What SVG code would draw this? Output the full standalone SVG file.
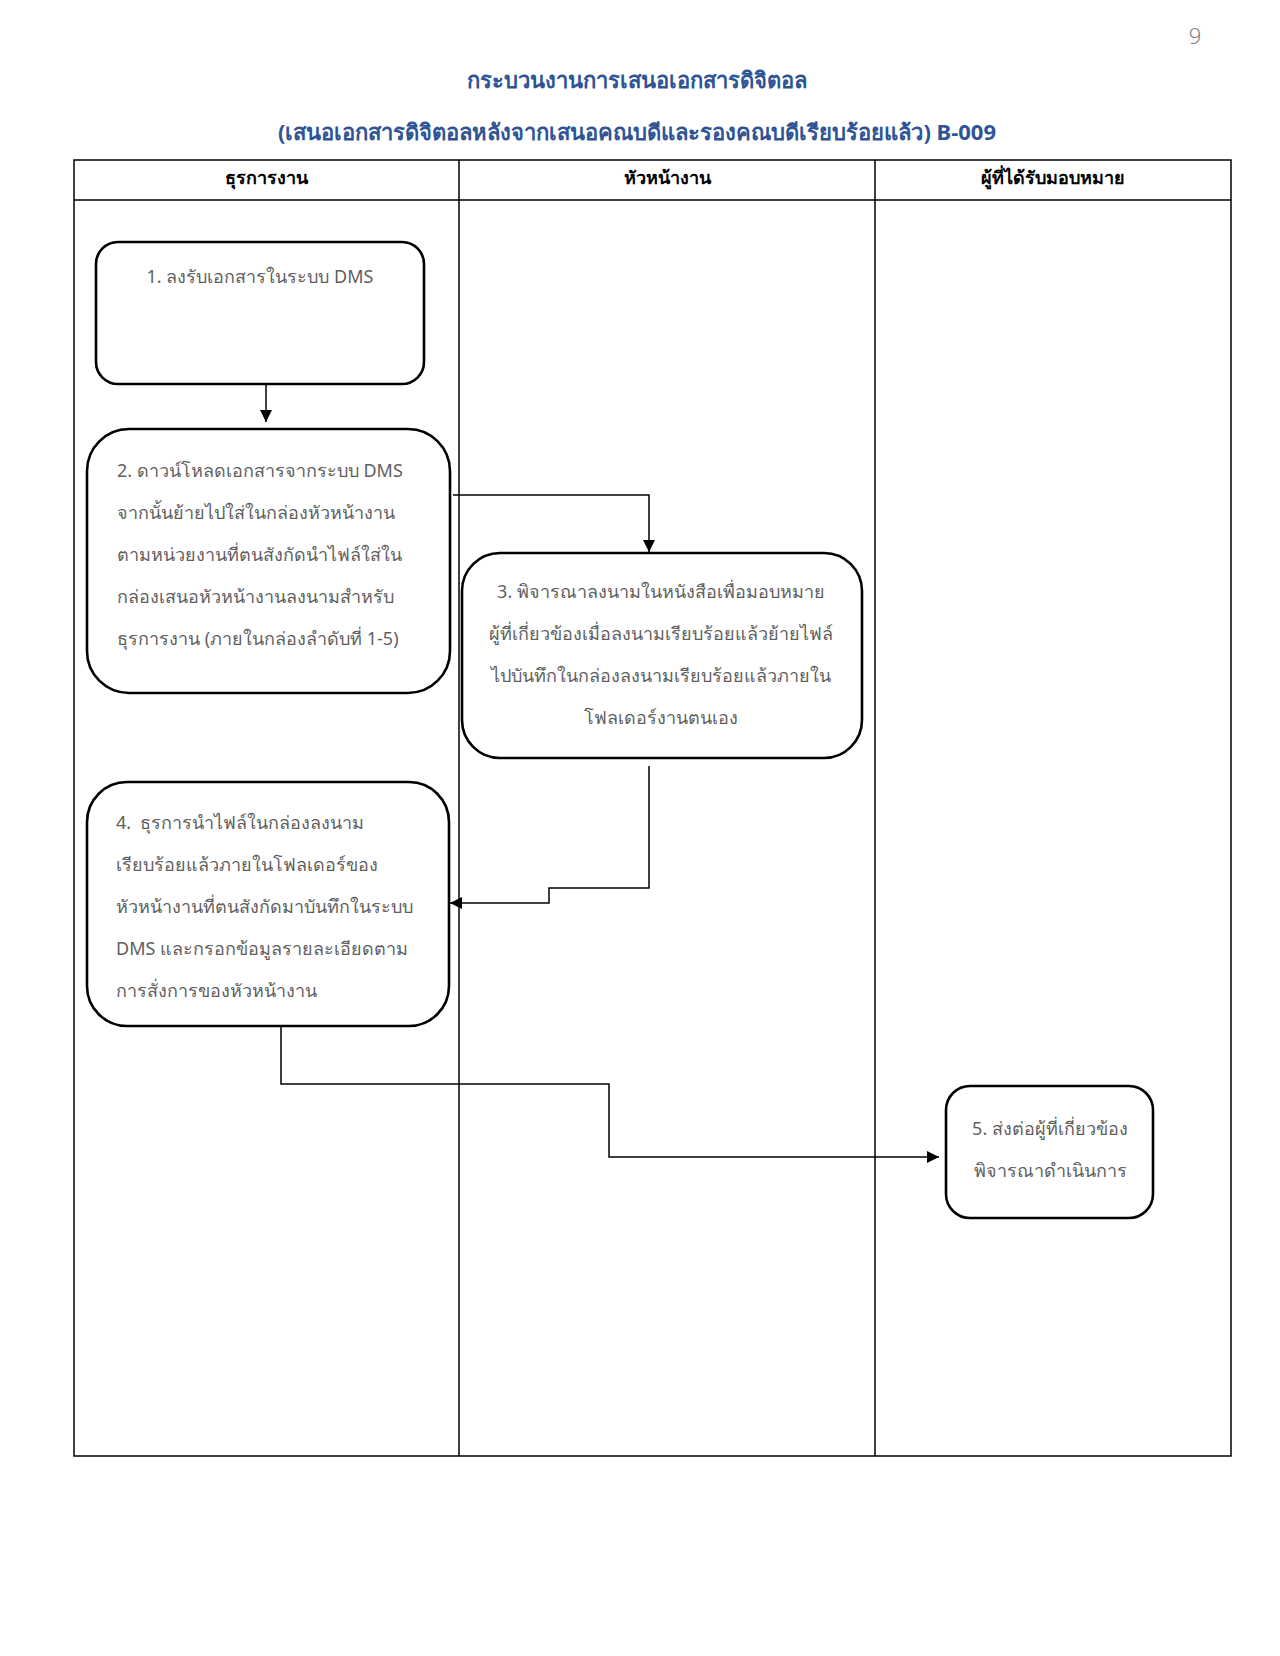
<svg xmlns="http://www.w3.org/2000/svg" width="1280" height="1656" viewBox="0 0 1280 1656">
<style>
  .title { font-family: 'Noto Sans', sans-serif; font-weight: bold; font-size: 22px; fill: #2F5496; text-anchor: middle; }
  .hdr { font-family: 'Noto Sans', sans-serif; font-weight: bold; font-size: 18px; fill: #000; text-anchor: middle; }
  .t { font-family: 'Noto Sans', sans-serif; font-size: 18px; fill: #5f5f5f; }
  .c { text-anchor: middle; }
  .box { fill: #fff; stroke: #000; stroke-width: 2.6; }
  .grid { fill: none; stroke: #000; stroke-width: 1.5; }
  .conn { fill: none; stroke: #000; stroke-width: 1.5; }
</style>
<defs>
  <marker id="arrB" viewBox="0 0 10 10" refX="10" refY="5" markerWidth="12" markerHeight="12" markerUnits="userSpaceOnUse" orient="auto">
    <path d="M0,0 L10,5 L0,10 z" fill="#000"/>
  </marker>
</defs>
<rect width="1280" height="1656" fill="#fff"/>

<text x="1195" y="44" font-family="'Noto Sans', sans-serif" font-size="22" fill="#7f7f7f" text-anchor="middle" font-weight="300">9</text>

<text class="title" x="637" y="88">กระบวนงานการเสนอเอกสารดิจิตอล</text>
<text class="title" x="637" y="140">(เสนอเอกสารดิจิตอลหลังจากเสนอคณบดีและรองคณบดีเรียบร้อยแล้ว) B-009</text>

<g id="lanes">
  <rect class="grid" x="74" y="160" width="1157" height="1296" stroke-width="2"/>
  <line class="grid" x1="74" y1="200" x2="1231" y2="200" stroke-width="2"/>
  <line class="grid" x1="459" y1="160" x2="459" y2="1456"/>
  <line class="grid" x1="875" y1="160" x2="875" y2="1456"/>
  <text class="hdr" x="266" y="184">ธุรการงาน</text>
  <text class="hdr" x="667" y="184">หัวหน้างาน</text>
  <text class="hdr" x="1053" y="184">ผู้ที่ได้รับมอบหมาย</text>
</g>

<g id="connectors">
  <line class="conn" x1="266" y1="384" x2="266" y2="422" marker-end="url(#arrB)"/>
  <polyline class="conn" points="453,495 649,495 649,552" marker-end="url(#arrB)"/>
  <polyline class="conn" points="649,766 649,888 549,888 549,903 450,903" marker-end="url(#arrB)"/>
  <polyline class="conn" points="281,1026 281,1084 609,1084 609,1157 939,1157" marker-end="url(#arrB)"/>
</g>

<g id="node1">
  <rect class="box" x="96" y="242" width="328" height="142" rx="22" ry="22"/>
  <text class="t c" x="260" y="283">1. ลงรับเอกสารในระบบ DMS</text>
</g>

<g id="node2">
  <rect class="box" x="87" y="429" width="363" height="264" rx="42" ry="42"/>
  <text class="t" x="117" y="477">2. ดาวน์โหลดเอกสารจากระบบ DMS</text>
  <text class="t" x="117" y="519">จากนั้นย้ายไปใส่ในกล่องหัวหน้างาน</text>
  <text class="t" x="117" y="561">ตามหน่วยงานที่ตนสังกัดนำไฟล์ใส่ใน</text>
  <text class="t" x="117" y="603">กล่องเสนอหัวหน้างานลงนามสำหรับ</text>
  <text class="t" x="117" y="645">ธุรการงาน (ภายในกล่องลำดับที่ 1-5)</text>
</g>

<g id="node3">
  <rect class="box" x="462" y="553" width="400" height="205" rx="38" ry="38"/>
  <text class="t c" x="661" y="598">3. พิจารณาลงนามในหนังสือเพื่อมอบหมาย</text>
  <text class="t c" x="661" y="640">ผู้ที่เกี่ยวข้องเมื่อลงนามเรียบร้อยแล้วย้ายไฟล์</text>
  <text class="t c" x="661" y="682">ไปบันทึกในกล่องลงนามเรียบร้อยแล้วภายใน</text>
  <text class="t c" x="661" y="724">โฟลเดอร์งานตนเอง</text>
</g>

<g id="node4">
  <rect class="box" x="87" y="782" width="362" height="244" rx="40" ry="40"/>
  <text class="t" x="116" y="829" xml:space="preserve">4.  ธุรการนำไฟล์ในกล่องลงนาม</text>
  <text class="t" x="116" y="871">เรียบร้อยแล้วภายในโฟลเดอร์ของ</text>
  <text class="t" x="116" y="913">หัวหน้างานที่ตนสังกัดมาบันทึกในระบบ</text>
  <text class="t" x="116" y="955">DMS และกรอกข้อมูลรายละเอียดตาม</text>
  <text class="t" x="116" y="997">การสั่งการของหัวหน้างาน</text>
</g>

<g id="node5">
  <rect class="box" x="946" y="1086" width="207" height="132" rx="24" ry="24"/>
  <text class="t c" x="1050" y="1135">5. ส่งต่อผู้ที่เกี่ยวข้อง</text>
  <text class="t c" x="1050" y="1177">พิจารณาดำเนินการ</text>
</g>
</svg>
